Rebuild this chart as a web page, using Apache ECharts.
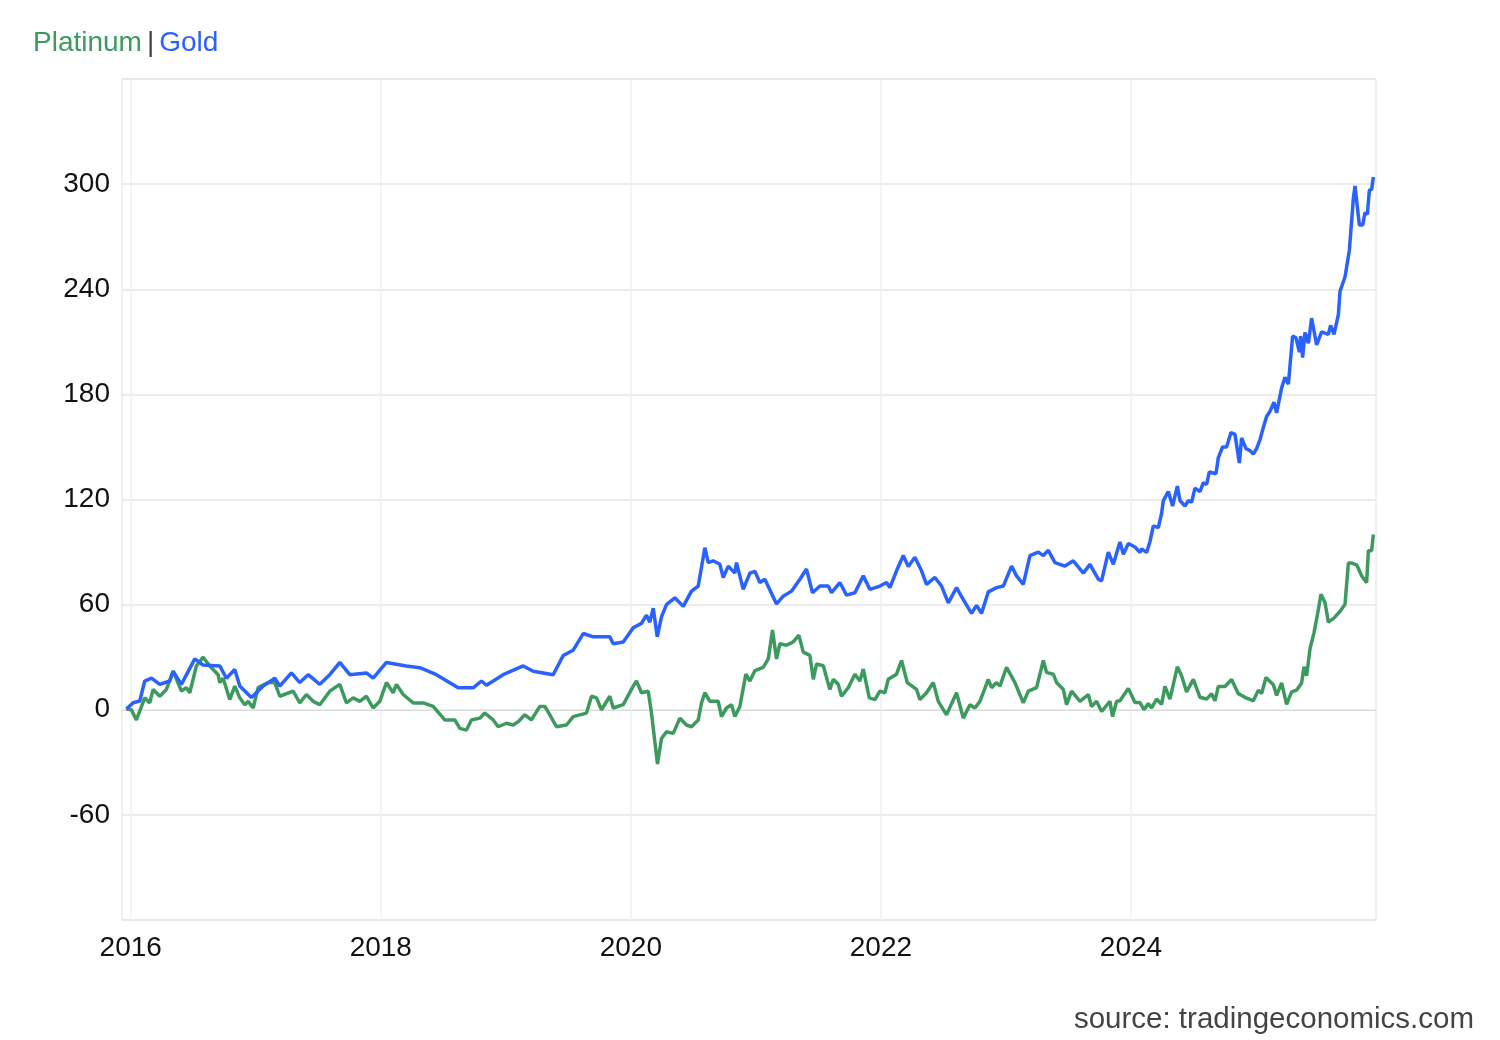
<!DOCTYPE html>
<html><head><meta charset="utf-8">
<script src="https://cdn.jsdelivr.net/npm/echarts@6/dist/echarts.min.js"></script>
<style>html,body{margin:0;padding:0;background:#fff}#c{width:1500px;height:1040px}</style>
</head><body><div id="c"></div>
<script>
const xTicks = [2016, 2018, 2020, 2022, 2024];
const yTicks = [-60, 0, 60, 120, 180, 240, 300];
const goldYears = [2015.965,2016.019,2016.072,2016.112,2016.165,2016.232,2016.312,2016.339,2016.405,2016.512,2016.579,2016.712,2016.765,2016.832,2016.872,2016.965,2017.059,2017.152,2017.192,2017.285,2017.352,2017.419,2017.512,2017.592,2017.672,2017.752,2017.885,2017.939,2018.045,2018.205,2018.312,2018.445,2018.619,2018.739,2018.805,2018.845,2018.979,2019.139,2019.219,2019.379,2019.459,2019.539,2019.619,2019.699,2019.832,2019.859,2019.939,
2020.019,2020.085,2020.125,2020.152,2020.179,2020.211,2020.245,2020.285,2020.352,2020.419,2020.485,2020.539,2020.592,2020.619,2020.659,2020.712,2020.739,2020.779,2020.832,2020.845,2020.899,2020.952,2020.992,2021.032,2021.072,2021.165,2021.219,2021.285,2021.352,2021.405,2021.453,2021.512,2021.579,2021.605,2021.672,2021.725,2021.792,2021.859,2021.912,2021.992,2022.045,2022.072,2022.125,2022.179,2022.219,2022.272,2022.325,2022.365,2022.432,2022.485,2022.539,2022.605,2022.659,2022.725,2022.765,2022.805,2022.859,2022.925,2022.979,2023.045,2023.085,2023.139,2023.192,2023.259,2023.299,2023.339,2023.392,2023.472,2023.539,2023.619,2023.672,2023.739,2023.765,2023.819,2023.859,2023.912,
2023.939,2023.979,2024.032,2024.072,2024.085,2024.125,2024.152,2024.179,2024.219,2024.245,2024.259,2024.299,2024.333,2024.371,2024.392,2024.432,2024.459,2024.485,2024.512,2024.552,2024.579,2024.605,2024.627,2024.680,2024.699,2024.733,2024.765,2024.800,2024.832,2024.867,2024.885,2024.920,2024.952,2024.979,2025.005,2025.032,2025.059,2025.085,2025.112,2025.144,2025.165,2025.205,2025.232,2025.259,2025.293,2025.320,2025.347,2025.357,2025.373,2025.392,2025.419,2025.445,2025.485,2025.525,2025.579,2025.597,2025.624,2025.659,2025.672,2025.712,2025.747,2025.779,2025.792,2025.827,2025.853,2025.872,2025.891,2025.907,2025.925,2025.939];
const goldValues = [0.4,4,5,16.4,18,14.5,16.4,22,14.5,29,25.5,25,18,23,13.5,7,13.5,18,13.5,21,15.5,20,14.5,20,27,20,21,18,27,25,24,20,12.5,12.5,16.4,14,20,25,22,20,31,34,43.5,41.6,41.6,37.7,38.7,
46.8,49.3,54,50,58,41.6,53,60,63.9,59,67.7,70.6,92.5,84,85,83,75.5,82,78,84,68.7,78,79,72.6,74.5,60.4,64.8,67.7,74.5,80.3,66.8,70.6,70.6,66.8,72.6,65.4,66.8,76.4,68.7,70.6,72.6,69.7,79.3,88,81.7,87,79.3,71.6,75.5,70.6,61,69.7,62.9,55,59.6,55,67.3,69.7,70.6,82,76.4,71.6,88,90,88,91,84,82,85,78,83,74.5,73.5,90,83,95.8,
88.8,94.9,92.9,89.8,91.8,89.8,95.9,105,104,112,119.4,124.5,116.3,127.6,119.4,116.3,119.4,118.4,126.5,124.5,129.6,128.6,135.7,134.7,143.9,150,150,158.2,157.2,140.8,155.1,149,147.9,145.9,149,154.1,161.2,167.4,170.4,175.5,169.4,183.7,189.8,185.8,213.3,212.3,204.1,213.3,201,215.3,209.2,223.5,208.2,215.7,214.3,219.4,214.3,225.5,238.8,247,262.3,291.9,299,276.6,276.6,283.7,282.7,296.6,297,304];
const platYears = [2015.965,2016.005,2016.045,2016.112,2016.152,2016.179,2016.232,2016.285,2016.339,2016.405,2016.445,2016.472,2016.525,2016.579,2016.632,2016.699,2016.712,2016.739,2016.792,2016.832,2016.872,2016.912,2016.939,2016.979,2017.019,2017.099,2017.152,2017.192,2017.299,2017.352,2017.405,2017.459,2017.512,2017.592,2017.672,2017.725,2017.779,2017.832,2017.885,2017.939,2017.992,2018.045,2018.099,2018.125,2018.179,2018.259,2018.339,2018.419,2018.512,2018.592,2018.632,2018.685,2018.725,2018.792,2018.832,2018.899,2018.939,2019.005,2019.059,2019.099,2019.152,2019.205,2019.272,2019.312,2019.352,2019.405,2019.485,2019.539,2019.592,2019.645,2019.685,2019.725,2019.765,2019.832,2019.859,2019.939,
2020.019,2020.045,2020.085,2020.139,2020.165,2020.179,2020.213,2020.245,2020.285,2020.339,2020.392,2020.445,2020.485,2020.539,2020.565,2020.592,2020.632,2020.699,2020.725,2020.765,2020.805,2020.832,2020.872,2020.920,2020.952,2020.992,2021.059,2021.099,2021.133,2021.165,2021.192,2021.245,2021.299,2021.344,2021.379,2021.432,2021.459,2021.485,2021.539,2021.592,2021.619,2021.659,2021.685,2021.739,2021.792,2021.832,2021.859,2021.907,2021.952,2021.992,2022.032,2022.059,2022.125,2022.165,2022.211,2022.285,2022.312,2022.365,2022.419,2022.459,2022.525,2022.605,2022.659,2022.712,2022.752,2022.792,2022.859,2022.885,2022.925,2022.952,2023.005,2023.072,2023.139,2023.179,2023.245,2023.299,2023.325,2023.379,2023.405,2023.459,2023.485,2023.525,2023.592,2023.659,2023.685,2023.725,2023.765,2023.832,2023.853,2023.885,
2023.912,2023.979,2024.032,2024.072,2024.104,2024.139,2024.165,2024.205,2024.245,2024.272,2024.312,2024.371,2024.405,2024.445,2024.499,2024.552,2024.605,2024.645,2024.672,2024.699,2024.752,2024.805,2024.859,2024.912,2024.979,2025.019,2025.045,2025.080,2025.139,2025.165,2025.205,2025.245,2025.285,2025.325,2025.365,2025.384,2025.405,2025.432,2025.464,2025.491,2025.520,2025.552,2025.579,2025.619,2025.672,2025.712,2025.739,2025.765,2025.805,2025.845,2025.885,2025.899,2025.925,2025.939];
const platValues = [0.4,0,-5.8,6.8,3.9,11.6,7.7,11.6,22,10.6,12.6,9.7,25,30,25,20,15.5,18,5.8,13.5,6.8,2.9,4.8,1,12.6,15.5,15.5,7.7,10.6,3.9,8.7,4.8,2.9,10.6,14.5,3.9,6.8,4.8,7.7,1,4.8,15.5,9.7,14.5,8.7,3.9,3.9,1.9,-5.8,-5.8,-10.6,-11.6,-5.8,-4.8,-1.9,-5.8,-9.7,-7.7,-8.7,-6.8,-2.9,-5.8,1.9,1.9,-2.9,-9.7,-8.7,-3.9,-2.9,-1.9,7.7,6.8,0,7.7,1,2.9,
13.5,16.4,9.7,10.6,-1.9,-1.9,-31,-16.4,-12.6,-13.5,-4.8,-8.7,-9.7,-5.8,3.9,9.7,4.8,4.8,-3.9,1,2.9,-3.9,1.9,20.3,16.4,22.3,24.2,29,45.5,29,37.7,36.8,38.7,42.6,32.9,31,17.4,26.1,25.1,11.6,17.4,14.5,7.7,12.6,20.3,16.4,23.2,6.8,5.8,10.6,9.7,17.4,20.3,28.1,15.5,11.6,5.8,9.7,15.5,4.8,-2.9,9.7,-4.8,2.9,1,4.8,17.4,12.6,15.5,13.5,24.2,15.5,3.9,10.6,12.6,28.1,21.3,20.3,15.5,11.6,2.9,10.6,4.8,8.7,1.9,4.8,-1,4.8,-3.9,4.8,
5.1,12.2,4.1,4.1,0,3.5,1,6.1,3.1,13.3,6.1,24.5,19.4,10.2,17.3,7.1,6.1,9.2,5.1,13.3,13.3,17.3,9.2,7.1,5.1,11.2,9.2,18.4,14.3,8.2,15.3,3.1,10.2,11.2,15.3,24.5,19.4,34.7,43.9,54.1,65.9,61.2,50,52,56.1,60.2,83.7,83.7,82.7,76.5,72.5,90.8,90.8,100];

const zip = (a, b) => a.map((x, i) => [x, b[i]]);
const chart = echarts.init(document.getElementById('c'));
const F = 'Arial, "Liberation Sans", sans-serif';
chart.setOption({
  animation: false,
  title: [
    { text: '{p|Platinum} {s||} {g|Gold}', left: 28, top: 24,
      textStyle: { fontWeight: 'normal', rich: { p: { color: '#3d9a5e', fontSize: 28, fontWeight: 'normal', fontFamily: F }, s: { color: '#444', fontSize: 28, fontWeight: 'normal', fontFamily: F }, g: { color: '#2962ff', fontSize: 28, fontWeight: 'normal', fontFamily: F } } } },
    { text: 'source: tradingeconomics.com', right: 21, top: 1000, textStyle: { color: '#444', fontSize: 29.5, fontWeight: 'normal', fontFamily: F } }
  ],
  grid: { left: 122, right: 124, top: 79, bottom: 120, show: true, borderColor: '#e3e3e3', borderWidth: 1 },
  xAxis: {
    type: 'value', min: 2015.93, max: 2025.96,
    axisLine: { show: true, lineStyle: { color: '#dcdcdc' } },
    axisTick: { show: false, customValues: xTicks },
    axisLabel: { customValues: xTicks, formatter: v => String(Math.round(v)), color: '#111', fontSize: 28, fontFamily: F, margin: 14 },
    splitLine: { show: true, lineStyle: { color: '#eef1f5', width: 1.5 } }
  },
  yAxis: {
    type: 'value', min: -120, max: 360, interval: 60,
    axisLine: { show: false }, axisTick: { show: false },
    axisLabel: { formatter: v => yTicks.includes(v) ? String(v) : '', color: '#111', fontSize: 28, fontFamily: F, margin: 12 },
    splitLine: { lineStyle: { color: '#e6e6e6', width: 1.5 } }
  },
  series: [
    { type: 'line', name: 'Platinum', data: zip(platYears, platValues), showSymbol: false, lineStyle: { color: '#3d9a5e', width: 3.5 }, itemStyle: { color: '#3d9a5e' } },
    { type: 'line', name: 'Gold', data: zip(goldYears, goldValues), showSymbol: false, lineStyle: { color: '#2962ff', width: 3.5 }, itemStyle: { color: '#2962ff' } }
  ]
});
</script></body></html>
